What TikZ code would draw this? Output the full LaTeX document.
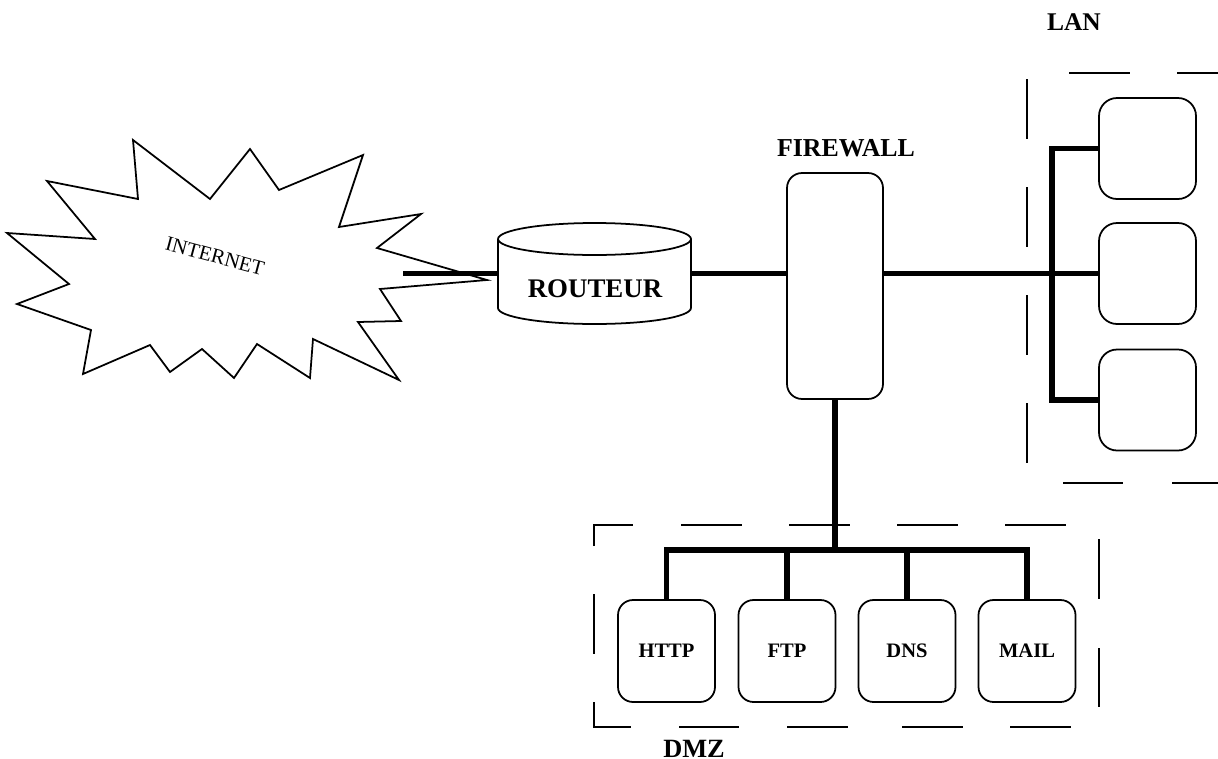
\documentclass[tikz,border=0pt]{standalone}
\usepackage{fontspec}
\setmainfont{Liberation Serif}
\begin{document}
\begin{tikzpicture}[x=0.02cm,y=-0.02cm,
  outline/.style={draw=black,line width=1pt},
  link/.style={draw=black,line width=3.3pt,line join=miter},
  dashseg/.style={draw=black,line width=1.1pt},
  srv/.style={outline,rounded corners=0.3cm,minimum width=1.94cm,minimum height=2.04cm,inner sep=0pt,
    font=\bfseries\fontsize{11.7}{14}\selectfont},
  lanbox/.style={outline,rounded corners=0.36cm,minimum width=1.94cm,minimum height=2.02cm,inner sep=0pt},
  biglabel/.style={inner sep=0pt,font=\bfseries\fontsize{15}{18}\selectfont}
]
\useasboundingbox (0,0) rectangle (1218,758);
\clip (0,0) rectangle (1218,758);

% Internet cloud
\draw[outline,line join=miter] (133,140) -- (138,199) -- (47,181) -- (95,239) -- (7,233) -- (69,284)
  -- (17,304) -- (91,330) -- (83,374) -- (150,345) -- (170,372) -- (202,349) -- (234,378)
  -- (257,344) -- (310,378) -- (313,339) -- (399,380) -- (358,322) -- (401,321) -- (380,289)
  -- (487,280) -- (377,248) -- (421,214) -- (339,227) -- (363,155) -- (279,190) -- (250,149)
  -- (210,199) -- cycle;
\node[inner sep=0pt,rotate=-15,font=\fontsize{11.8}{14}\selectfont] (inettext) at (215,256) {INTERNET};
\coordinate (inet) at (403,273.5);

% Router (cylinder)
\node[minimum width=3.86cm,minimum height=2.02cm,inner sep=0pt] (router) at (594.5,273.5) {};
\draw[outline,fill=white] (498,239) -- (498,308) arc[start angle=180,end angle=360,x radius=1.93cm,y radius=0.32cm] -- (691,239);
\draw[outline] (594.5,239) ellipse [x radius=1.93cm,y radius=0.32cm];
\node[biglabel,font=\bfseries\fontsize{15.3}{18}\selectfont] (routertext) at (595,289) {ROUTEUR};

% Firewall
\node[outline,rounded corners=0.3cm,minimum width=1.92cm,minimum height=4.52cm,inner sep=0pt] (fw) at (835,286) {};
\node[biglabel,font=\bfseries\fontsize{14.7}{18}\selectfont] (fwlabel) at (846,148) {FIREWALL};

% LAN
\node[lanbox] (lan1) at (1147.5,148.5) {};
\node[lanbox] (lan2) at (1147.5,273.5) {};
\node[lanbox] (lan3) at (1147.5,400) {};
\coordinate (lanbus) at (1052,273.5);
\node[biglabel,font=\bfseries\fontsize{14.5}{18}\selectfont] (lanlabel) at (1074,22.5) {LAN};

% DMZ servers
\node[srv] (http) at (666.5,651) {HTTP};
\node[srv] (ftp) at (787,651) {FTP};
\node[srv] (dns) at (907,651) {DNS};
\node[srv] (mail) at (1027,651) {MAIL};
\coordinate (dmzbus) at (835,550);
\node[biglabel,anchor=base] (dmzlabel) at (694,757.5) {DMZ};

% Links
\draw[link] (inet) -- (router.west);
\draw[link] (router.east) -- (router.east -| fw.west);
\draw[link] (fw.east |- lan2.west) -- (lan2.west);
\draw[link] (lan1.west) -- (lan1.west -| lanbus) -- (lan3.west -| lanbus) -- (lan3.west);
\draw[link] (fw.south) -- (fw.south |- dmzbus);
\draw[link] (http.north) -- (http.north |- dmzbus) -- (mail.north |- dmzbus) -- (mail.north);
\draw[link] (ftp.north) -- (ftp.north |- dmzbus);
\draw[link] (dns.north) -- (dns.north |- dmzbus);

% LAN dashed frame
\foreach \a/\b in {79/139,187/247,295/355,403/463}
  \draw[dashseg] (1027,\a) -- (1027,\b);
\foreach \a/\b in {1069/1130,1177/1218}
  \draw[dashseg] (\a,73) -- (\b,73);
\foreach \a/\b in {1063/1123,1172/1218}
  \draw[dashseg] (\a,483) -- (\b,483);

% DMZ dashed frame
\draw[dashseg] (594,546) -- (594,525) -- (633,525);
\draw[dashseg] (594,702) -- (594,727) -- (631,727);
\draw[dashseg] (594,594) -- (594,654);
\foreach \a/\b in {681/742,789/850,897/958,1005/1066}
  \draw[dashseg] (\a,525) -- (\b,525);
\foreach \a/\b in {679/739,787/848,902/963,1010/1071}
  \draw[dashseg] (\a,727) -- (\b,727);
\foreach \a/\b in {539/599,648/707}
  \draw[dashseg] (1099,\a) -- (1099,\b);
\end{tikzpicture}
\end{document}
